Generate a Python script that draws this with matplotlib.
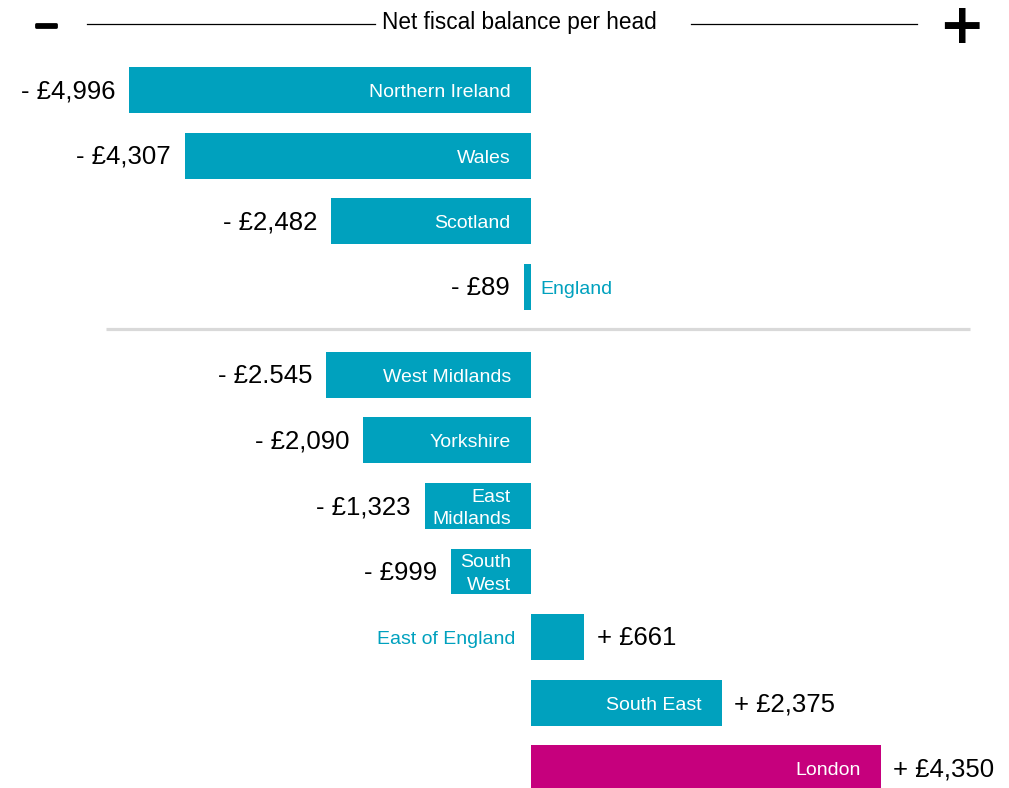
import numpy as np
import matplotlib.pyplot as plt
import matplotlib.patheffects as pe
from matplotlib.lines import Line2D

plt.rcParams['font.family'] = ['Liberation Sans', 'DejaVu Sans']

# Net fiscal balance per head, nations first then English regions
nations = ["Northern Ireland", "Wales", "Scotland", "England"]
nation_values = [-4996, -4307, -2482, -89]
nation_labels = ["- £4,996", "- £4,307", "- £2,482", "- £89"]

regions = ["West Midlands", "Yorkshire", "East\nMidlands", "South\nWest",
           "East of England", "South East", "London"]
region_values = [-2545, -2090, -1323, -999, 661, 2375, 4350]
region_labels = ["- £2.545", "- £2,090", "- £1,323", "- £999",
                 "+ £661", "+ £2,375", "+ £4,350"]

# names that are written beside the bar instead of inside it
outside_names = ["England", "East of England"]

TEAL = "#00a1be"
MAGENTA = "#c6007d"

W, H = 1009, 788
ZERO_PX = 531          # x pixel of the zero line
PX_PER_POUND = 0.0804
ROW_PX = 65.6
FIRST_ROW_PX = 90
GAP = 0.34             # extra space around the separator, in rows


def figpos(x, y):
    """pixel (from top-left) -> figure fraction"""
    return x / W, 1 - y / H


def main():
    names = nations + regions
    values = np.array(nation_values + region_values)
    labels = nation_labels + region_labels
    ypos = np.concatenate([np.arange(len(nations)),
                           np.arange(len(regions)) + len(nations) + GAP])
    colors = [TEAL] * (len(names) - 1) + [MAGENTA]

    fig = plt.figure(figsize=(W / 100, H / 100), dpi=100)
    ax = fig.add_axes([0, 0, 1, 1])
    ax.set_xlim(-ZERO_PX / PX_PER_POUND, (W - ZERO_PX) / PX_PER_POUND)
    ax.set_ylim((H - FIRST_ROW_PX) / ROW_PX, -FIRST_ROW_PX / ROW_PX)
    ax.axis('off')

    ax.barh(ypos, values, height=0.70, color=colors, linewidth=0)

    for y, v, name, lab in zip(ypos, values, names, labels):
        # value label beyond the end of the bar
        if v < 0:
            ax.annotate(lab, (v, y), xytext=(-10, -1), textcoords='offset points',
                        ha='right', va='center', fontsize=18.5, color='black')
        else:
            ax.annotate(lab, (v, y), xytext=(9, -1), textcoords='offset points',
                        ha='left', va='center', fontsize=18.5, color='black')
        # region name
        if name in outside_names:
            if v < 0:
                ax.annotate(name, (0, y), xytext=(6.5, -1.8), textcoords='offset points',
                            ha='left', va='center', fontsize=14, color=TEAL)
            else:
                ax.annotate(name, (0, y), xytext=(-11, -1.8), textcoords='offset points',
                            ha='right', va='center', fontsize=14, color=TEAL)
        else:
            anchor = 0 if v < 0 else v
            ax.annotate(name, (anchor, y), xytext=(-14.5, -1.8), textcoords='offset points',
                        ha='right', va='center', fontsize=14, color='white',
                        multialignment='right', linespacing=1.4)

    # separator between nations and English regions
    sep_y = len(nations) - 1 + (1 + GAP) * 0.48
    ax.plot([(106 - ZERO_PX) / PX_PER_POUND, (970 - ZERO_PX) / PX_PER_POUND],
            [sep_y, sep_y], color='#d9d9d9', lw=2.3, solid_capstyle='butt')

    # header
    tx, ty = figpos(519, 22)
    fig.text(tx, ty, "Net fiscal balance per head", ha='center', va='center',
             fontsize=16.3, color='black')
    for x0, x1 in [(87, 375), (691, 917)]:
        (a, b), (c, d) = figpos(x0, 23.5), figpos(x1, 23.5)
        fig.add_artist(Line2D([a, c], [b, d], color='black', lw=0.9))
    mx, my = figpos(46, 12)
    fig.text(mx, my, "\u2212", ha='center', va='top', fontsize=22,
             fontweight='bold', family='DejaVu Sans', color='black',
             path_effects=[pe.withStroke(linewidth=2, foreground='black')])
    px_, py_ = figpos(961.5, 1)
    fig.text(px_, py_, "+", ha='center', va='top', fontsize=40,
             fontweight='bold', family='DejaVu Sans', color='black')

    fig.savefig("out.png", dpi=100)


if __name__ == "__main__":
    main()
